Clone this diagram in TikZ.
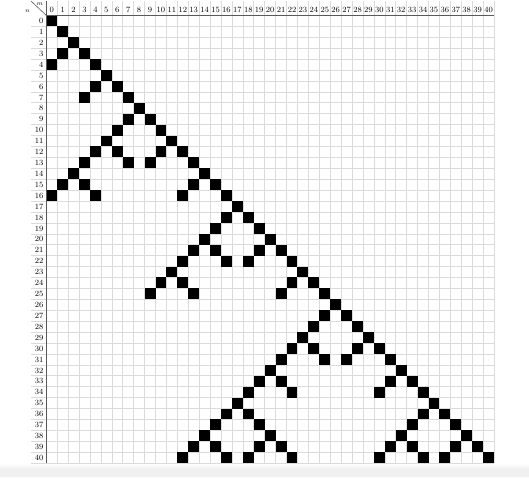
\documentclass[tikz,border=0pt]{standalone}
\begin{document}
\begin{tikzpicture}[x=1pt,y=-1pt,
  lab/.style={font=\fontsize{8}{9}\selectfont, inner sep=0pt},
  cornerlab/.style={font=\fontsize{6}{7}\selectfont, inner sep=0pt},
  gridline/.style={draw=black!14, line width=0.6pt},
  ruleline/.style={draw=black!65, line width=0.8pt},
  cellfill/.style={fill=black}]
\def\XO{46.3}
\def\YO{15.4}
\def\W{10.92}
\useasboundingbox (0,0) rectangle (529,477);
\fill[white] (0,0) rectangle (529,477);
\shade[top color=white, bottom color=black!6] (0,463.5) rectangle (529,469);
\fill[black!6] (0,469) rectangle (529,477);
% grid
\foreach \i in {1,...,41} {
  \draw[gridline] ({\XO+\i*\W},1) -- ({\XO+\i*\W},{\YO+41*\W});
}
\foreach \i in {1,...,41} {
  \draw[gridline] (31,{\YO+\i*\W}) -- ({\XO+41*\W},{\YO+\i*\W});
}
% black cells
\foreach \r/\cs in {0/{0},1/{1},2/{2},3/{1,3},4/{0,4},5/{5},6/{4,6},7/{3,7},8/{8},
  9/{7,9},10/{6,10},11/{5,11},12/{4,6,10,12},13/{3,7,9,13},14/{2,14},
  15/{1,3,13,15},16/{0,4,12,16},17/{17},18/{16,18},19/{15,19},20/{14,20},
  21/{13,15,19,21},22/{12,16,18,22},23/{11,23},24/{10,12,22,24},25/{9,13,21,25},
  26/{26},27/{25,27},28/{24,28},29/{23,29},30/{22,24,28,30},31/{21,25,27,31},
  32/{20,32},33/{19,21,31,33},34/{18,22,30,34},35/{17,35},36/{16,18,34,36},
  37/{15,19,33,37},38/{14,20,32,38},39/{13,15,19,21,31,33,37,39},
  40/{12,16,18,22,30,34,36,40}} {
  \foreach \c in \cs {
    \fill[cellfill] ({\XO+\c*\W},{\YO+\r*\W}) rectangle ++(\W,\W);
  }
}
% rules
\coordinate (ruleL) at (\XO,\YO);
\coordinate (ruleR) at ({\XO+41*\W},\YO);
\coordinate (ruleT) at (\XO,1);
\coordinate (ruleB) at (\XO,{\YO+41*\W});
\coordinate (diagA) at (31,1);
\draw[ruleline] (ruleL) -- (ruleR);
\draw[ruleline] (ruleT) -- (ruleB);
\draw[draw=black!65, line width=0.6pt] (diagA) -- (ruleL);
% corner labels
\node[cornerlab] (nlab) at (27.5,11) {$n$};
\node[cornerlab] (mlab) at (40,4.5) {$m$};
% header labels
\foreach \c in {0,...,40} {
  \node[lab, anchor=base] (h\c) at ({\XO+(\c+0.5)*\W},12.1) {\c};
}
% row labels
\foreach \r in {0,...,40} {
  \node[lab, anchor=base east] (r\r) at (43.6,{\YO+(\r+0.5)*\W+2.7}) {\r};
}
\end{tikzpicture}
\end{document}
